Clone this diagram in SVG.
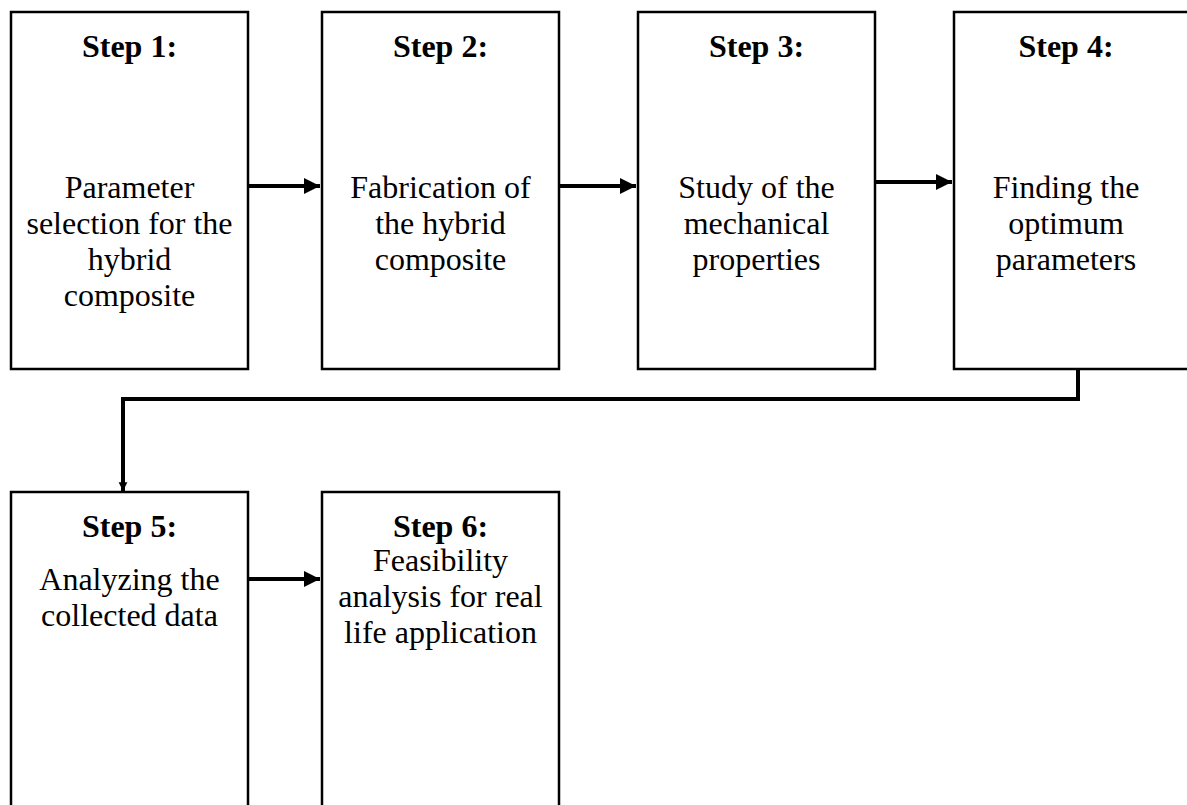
<svg xmlns="http://www.w3.org/2000/svg" width="1187" height="805" viewBox="0 0 1187 805">
<defs>
<style>
.box{fill:#fff;stroke:#000;stroke-width:2.5}
.h{font-family:"Liberation Serif","Times New Roman",serif;font-weight:bold;font-size:32px;text-anchor:middle;fill:#000}
.t{font-family:"Liberation Serif","Times New Roman",serif;font-size:32px;text-anchor:middle;fill:#000}
.c{fill:none;stroke:#000;stroke-width:4}
</style>
<marker id="ah" viewBox="0 0 10 10" refX="10" refY="5" markerWidth="4" markerHeight="4" orient="auto" markerUnits="strokeWidth">
<path d="M0,0 L10,5 L0,10 z" fill="#000"/>
</marker>
<marker id="ah2" viewBox="0 0 10 10" refX="10" refY="5" markerWidth="2.2" markerHeight="2.4" orient="auto" markerUnits="strokeWidth">
<path d="M0,0 L10,5 L0,10 z" fill="#000"/>
</marker>
</defs>
<rect width="1187" height="805" fill="#fff"/>
<g id="step1">
<rect class="box" x="11" y="12" width="237" height="357"/>
<text class="h" x="129.5" y="57">Step 1:</text>
<text class="t" x="129.5" y="198">Parameter</text>
<text class="t" x="129.5" y="234">selection for the</text>
<text class="t" x="129.5" y="270">hybrid</text>
<text class="t" x="129.5" y="306">composite</text>
</g>
<g id="step2">
<rect class="box" x="322" y="12" width="237" height="357"/>
<text class="h" x="440.5" y="57">Step 2:</text>
<text class="t" x="440.5" y="198">Fabrication of</text>
<text class="t" x="440.5" y="234">the hybrid</text>
<text class="t" x="440.5" y="270">composite</text>
</g>
<g id="step3">
<rect class="box" x="638" y="12" width="237" height="357"/>
<text class="h" x="756.5" y="57">Step 3:</text>
<text class="t" x="756.5" y="198">Study of the</text>
<text class="t" x="756.5" y="234">mechanical</text>
<text class="t" x="756.5" y="270">properties</text>
</g>
<g id="step4">
<rect class="box" x="954" y="12" width="237" height="357"/>
<text class="h" x="1066" y="57">Step 4:</text>
<text class="t" x="1066" y="198">Finding the</text>
<text class="t" x="1066" y="234">optimum</text>
<text class="t" x="1066" y="270">parameters</text>
</g>
<g id="step5">
<rect class="box" x="11" y="492" width="237" height="330"/>
<text class="h" x="129.5" y="537">Step 5:</text>
<text class="t" x="129.5" y="590">Analyzing the</text>
<text class="t" x="129.5" y="626">collected data</text>
</g>
<g id="step6">
<rect class="box" x="322" y="492" width="237" height="330"/>
<text class="h" x="440.5" y="537">Step 6:</text>
<text class="t" x="440.5" y="571">Feasibility</text>
<text class="t" x="440.5" y="607">analysis for real</text>
<text class="t" x="440.5" y="643">life application</text>
</g>
<g id="connectors">
<line class="c" x1="248" y1="186" x2="320" y2="186" marker-end="url(#ah)"/>
<line class="c" x1="559" y1="186" x2="636" y2="186" marker-end="url(#ah)"/>
<line class="c" x1="875" y1="182" x2="952" y2="182" marker-end="url(#ah)"/>
<line class="c" x1="248" y1="579" x2="320" y2="579" marker-end="url(#ah)"/>
<polyline class="c" points="1078,369 1078,399 123,399 123,491" marker-end="url(#ah2)"/>
</g>
</svg>
